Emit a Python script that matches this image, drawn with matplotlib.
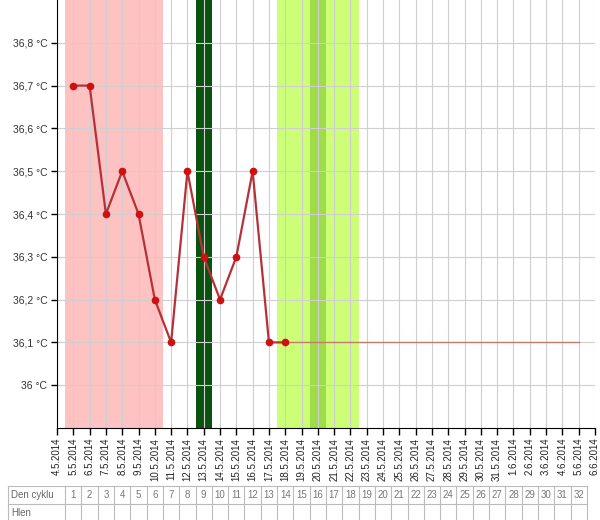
import numpy as np
import pandas as pd
import matplotlib
matplotlib.use('Agg')
import matplotlib.pyplot as plt

plt.rcParams['font.family'] = ['Liberation Sans', 'DejaVu Sans']

# chart data
start_date = '4.5.2014'
end_date = '6.6.2014'
temp_dates = ['5.5.2014', '6.5.2014', '7.5.2014', '8.5.2014', '9.5.2014', '10.5.2014',
              '11.5.2014', '12.5.2014', '13.5.2014', '14.5.2014', '15.5.2014', '16.5.2014',
              '17.5.2014', '18.5.2014']
temps = [36.7, 36.7, 36.4, 36.5, 36.4, 36.2, 36.1, 36.5, 36.3, 36.2, 36.3, 36.5, 36.1, 36.1]
baseline_dates = ['18.5.2014', '5.6.2014']
baseline_temp = 36.1
period_dates = ['5.5.2014', '10.5.2014']
ovulation_dates = ['13.5.2014', '13.5.2014']
fertile_dates = ['18.5.2014', '22.5.2014']
peak_dates = ['20.5.2014', '20.5.2014']
cycle_days = list(range(1, 33))
y_ticks = [36.0, 36.1, 36.2, 36.3, 36.4, 36.5, 36.6, 36.7, 36.8]
row_labels = ['Den cyklu', 'Hlen']

t0 = pd.to_datetime(start_date, format='%d.%m.%Y')


def day(s):
    return (pd.to_datetime(s, format='%d.%m.%Y') - t0).days


all_days = pd.date_range(t0, pd.to_datetime(end_date, format='%d.%m.%Y'))
x_ticks = np.arange(len(all_days))
x_labels = [f'{d.day}.{d.month}.{d.year}' for d in all_days]

fig = plt.figure(figsize=(6, 5.2), dpi=100)
ax = fig.add_axes([57 / 600, 92 / 520, 538 / 600, 428 / 520])

# coloured day bands
ax.axvspan(day(period_dates[0]) - 0.5, day(period_dates[1]) + 0.5, color='#ffc2c2', lw=0, zorder=0)
ax.axvspan(day(fertile_dates[0]) - 0.5, day(fertile_dates[1]) + 0.5, color='#ccff77', lw=0, zorder=0)
ax.axvspan(day(peak_dates[0]) - 0.5, day(peak_dates[1]) + 0.5, color='#9edc48', lw=0, zorder=0)
ax.axvspan(day(ovulation_dates[0]) - 0.5, day(ovulation_dates[1]) + 0.5, color='#0a520f', lw=0, zorder=0)

ax.set_xticks(x_ticks)
ax.set_xticklabels(x_labels, rotation=90, fontsize=7, color='#222222')
ax.set_yticks(y_ticks)
ax.set_yticklabels([('%g' % v).replace('.', ',') + ' °C' for v in y_ticks], fontsize=7.5, color='#333333')
ax.set_xlim(0, len(all_days) - 1)
ax.set_ylim(35.9, 36.9)
ax.grid(True, color='#cfcfcf', lw=0.8, zorder=1)
ax.set_axisbelow(True)
for side in ['top', 'right']:
    ax.spines[side].set_visible(False)
ax.tick_params(axis='x', length=5, width=1, pad=2)
ax.tick_params(axis='y', length=4, width=1, pad=3)

# temperature line
ax.plot([day(d) for d in baseline_dates], [baseline_temp] * 2, color='#c47a6a', lw=1, zorder=3)
ax.plot([day(d) for d in temp_dates], temps, color='#b5313a', lw=1.6, marker='o',
        ms=4.5, mfc='#d01010', mec='#d01010', zorder=4)

# table under the chart
tab = fig.add_axes([57 / 600, -20 / 520, 538 / 600, 54 / 520])
tab.set_xlim(ax.get_xlim())
tab.set_ylim(3, 0)
tab.axis('off')
line_kw = dict(color='#bbbbbb', lw=0.8, clip_on=False)
left = -3
right = len(cycle_days) + 0.5
tab.plot([left, right], [0, 0], **line_kw)
tab.plot([left, right], [1, 1], **line_kw)
tab.plot([left, left], [0, 3], **line_kw)
for i, n in enumerate(cycle_days):
    x = day(period_dates[0]) + i
    tab.plot([x - 0.5, x - 0.5], [0, 3], **line_kw)
    tab.text(x, 0.5, str(n), ha='center', va='center', fontsize=7, color='#777777', clip_on=False)
tab.plot([right, right], [0, 3], **line_kw)
for r, lab in enumerate(row_labels):
    tab.text(left + 0.2, r + 0.5, lab, ha='left', va='center', fontsize=7, color='#666666', clip_on=False)

fig.savefig('out.png', dpi=100)
